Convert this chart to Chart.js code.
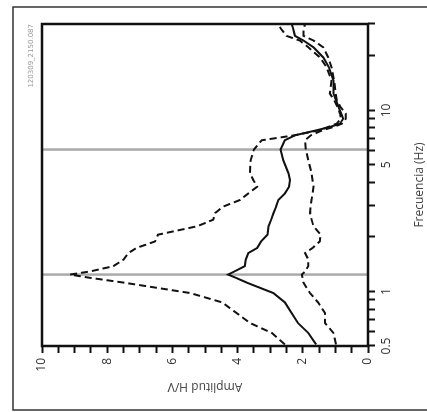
<!DOCTYPE html>
<html>
<head>
<meta charset="utf-8">
<script src="https://cdn.jsdelivr.net/npm/chart.js@4"></script>
<style>
  html, body { margin: 0; padding: 0; background: #fff; overflow: hidden; }
  /* the figure is drawn upright, then turned a quarter turn to the left */
  #wrap {
    position: absolute; left: 0; top: 0; width: 412px; height: 427px;
    transform-origin: 0 0; transform: translate(0px, 412px) rotate(-90deg);
  }
</style>
</head>
<body>
<div id="wrap"><canvas id="hvChart" width="412" height="427"></canvas></div>
<script>
"use strict";

// Frequencies (Hz) where the curves were read
const freqs = [0.51, 0.59, 0.67, 0.76, 0.87, 0.98, 1.12, 1.19, 1.24, 1.29, 1.38, 1.5, 1.63, 1.74, 1.89,
  2.06, 2.29, 2.49, 2.71, 2.94, 3.2, 3.48, 3.79, 4.13, 4.49, 5.31, 6.08, 6.84, 7.29, 7.77, 8.1, 8.45,
  9.0, 9.59, 10.4, 11.4, 12.4, 14.6, 17.3, 19.6, 22.3, 24.3, 25.8, 28.1, 29.9];

// Mean H/V curve
const hvMean = [1.59, 1.83, 2.15, 2.34, 2.55, 2.9, 3.72, 4.05, 4.29, 4.1, 3.78, 3.75, 3.67, 3.4, 3.28,
  3.08, 3.05, 2.97, 2.9, 2.82, 2.75, 2.55, 2.42, 2.39, 2.44, 2.6, 2.68, 2.55, 2.24, 1.57, 1.17, 0.86,
  0.76, 0.82, 0.9, 0.98, 1.06, 1.06, 1.2, 1.37, 1.67, 1.98, 2.24, 2.29, 2.34];

// Mean + std
const hvUpper = [2.55, 2.95, 3.62, 4.03, 4.47, 5.45, 7.5, 8.53, 9.14, 8.53, 7.81, 7.5, 7.35, 7.1, 6.53,
  6.44, 5.25, 4.75, 4.69, 4.45, 3.93, 3.67, 3.4, 3.52, 3.62, 3.6, 3.5, 3.26, 2.25, 1.5, 1.22, 0.96,
  0.83, 0.86, 0.93, 1.04, 1.17, 1.12, 1.27, 1.47, 1.83, 2.09, 2.5, 2.66, 2.76];

// Mean - std
const hvLower = [0.98, 1.06, 1.32, 1.32, 1.53, 1.78, 1.98, 2.01, 2.03, 1.93, 1.83, 1.83, 1.93, 1.7, 1.48,
  1.45, 1.67, 1.73, 1.78, 1.76, 1.73, 1.7, 1.67, 1.7, 1.73, 1.83, 1.91, 1.93, 1.75, 1.4, 1.06, 0.8,
  0.68, 0.68, 0.84, 0.96, 0.99, 1.04, 1.12, 1.22, 1.37, 1.67, 1.98, 1.98, 1.93];

// Gray marker lines (Hz)
const markerFreqs = [1.24, 6.08];

// Axis ticks
const freqTicks = [0.5, 0.6, 0.7, 0.8, 0.9, 1, 2, 3, 4, 5, 6, 7, 8, 9, 10, 20, 30];
const freqLabels = [0.5, 1, 5, 10];
const ampTicks = [0, 0.5, 1, 1.5, 2, 2.5, 3, 3.5, 4, 4.5, 5, 5.5, 6, 6.5, 7, 7.5, 8, 8.5, 9, 9.5, 10];
const ampLabels = [0, 2, 4, 6, 8, 10];

const recordId = "120309_2150.087";

const toPoints = (values) => freqs.map((f, i) => ({ x: f, y: values[i] }));

const tickFont = { family: "'Open Sans', sans-serif", size: 12 };

// Outer border, box round the plot and the record id
const framePlugin = {
  id: "frame",
  afterDraw(chart) {
    const { ctx, chartArea: a } = chart;
    ctx.save();
    ctx.strokeStyle = "#333";
    ctx.lineWidth = 1.5;
    ctx.strokeRect(2, 13, 403, 440);
    ctx.strokeStyle = "#111";
    ctx.lineWidth = 2.5;
    ctx.strokeRect(a.left, a.top, a.right - a.left, a.bottom - a.top);
    ctx.fillStyle = "#999";
    ctx.font = "7px 'DejaVu Sans', sans-serif";
    ctx.textAlign = "right";
    ctx.textBaseline = "middle";
    ctx.fillText(recordId, a.right, 31);
    ctx.restore();
  },
};

const curve = (values, dashed) => ({
  data: toPoints(values),
  borderColor: "#111",
  borderWidth: 2,
  borderDash: dashed ? [7, 4] : [],
  pointRadius: 0,
  fill: false,
});

const ctx = document.getElementById("hvChart").getContext("2d");
new Chart(ctx, {
  type: "line",
  data: {
    datasets: [
      curve(hvMean, false),
      curve(hvUpper, true),
      curve(hvLower, true),
      ...markerFreqs.map((f) => ({
        data: [{ x: f, y: 0 }, { x: f, y: 10 }],
        borderColor: "#aaa",
        borderWidth: 2.5,
        pointRadius: 0,
      })),
    ],
  },
  options: {
    responsive: false,
    animation: false,
    layout: { padding: { top: 42, right: 24, left: 0, bottom: 0 } },
    plugins: { legend: { display: false }, tooltip: { enabled: false } },
    scales: {
      x: {
        type: "logarithmic",
        min: 0.5,
        max: 30,
        afterBuildTicks: (s) => { s.ticks = freqTicks.map((v) => ({ value: v })); },
        afterFit: (s) => { s.height = 59; },
        ticks: {
          autoSkip: false,
          maxRotation: 0,
          minRotation: 0,
          padding: 4,
          color: "#333",
          font: tickFont,
          callback: (v) => (freqLabels.includes(v) ? String(v) : ""),
        },
        grid: { drawOnChartArea: false, tickLength: 7, tickColor: "#111", tickWidth: 2 },
        border: { display: false },
        title: {
          display: true,
          text: "Frecuencia (Hz)",
          color: "#444",
          font: { family: "'Open Sans', sans-serif", size: 12 },
          padding: { top: 7, bottom: 0 },
        },
      },
      y: {
        min: 0,
        max: 10,
        afterBuildTicks: (s) => { s.ticks = ampTicks.map((v) => ({ value: v })); },
        afterFit: (s) => { s.width = 66; },
        ticks: {
          autoSkip: false,
          padding: 5,
          color: "#333",
          font: tickFont,
          callback: (v) => (ampLabels.includes(v) ? String(v) : ""),
        },
        grid: { drawOnChartArea: false, tickLength: 7, tickColor: "#111", tickWidth: 2 },
        border: { display: false },
        title: {
          display: true,
          text: "Amplitud H/V",
          color: "#444",
          font: { family: "'Open Sans', sans-serif", size: 12 },
          padding: { top: 18, bottom: 0 },
        },
      },
    },
  },
  plugins: [framePlugin],
});
</script>
</body>
</html>
